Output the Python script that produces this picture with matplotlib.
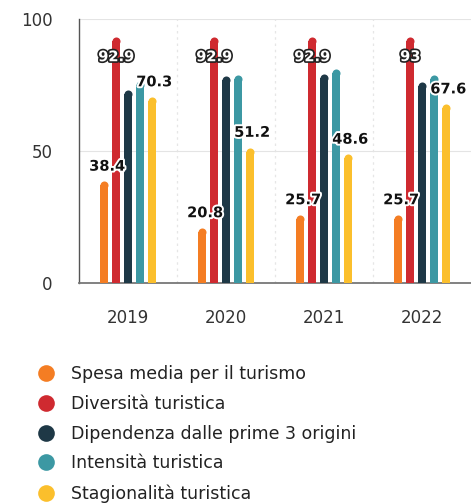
import matplotlib
matplotlib.use("Agg")
import matplotlib.pyplot as plt
import matplotlib.patheffects as pe
import numpy as np

years = ["2019", "2020", "2021", "2022"]
series_names = [
    "Spesa media per il turismo",
    "Diversità turistica",
    "Dipendenza dalle prime 3 origini",
    "Intensità turistica",
    "Stagionalità turistica",
]
spesa = [38.4, 20.8, 25.7, 25.7]
diversita = [92.9, 92.9, 92.9, 93]
dipendenza = [73.0, 78.4, 79.2, 76.0]
intensita = [76.5, 78.6, 81.0, 78.8]
stagionalita = [70.3, 51.2, 48.6, 67.6]
labelled = [True, True, False, False, True]
colors = ["#f47d23", "#cf2a30", "#1e3846", "#3c98a3", "#fbbf2c"]

series = [spesa, diversita, dipendenza, intensita, stagionalita]

plt.rcParams["font.family"] = ["DejaVu Sans"]
fig = plt.figure(figsize=(4.71, 5.03), dpi=100)
ax_h_px = 264.5
ax = fig.add_axes([79 / 471, 220 / 503, 392 / 471, ax_h_px / 503])

ax.set_xlim(-0.5, 3.5)
ax.set_ylim(0, 100)

x = np.arange(len(years))
step = 0.12
bw = 0.082
cap_px = bw * 98  # cap diameter in pixels, same as the bar width
cap_r = (cap_px / 2) / (ax_h_px / 100)  # cap radius in data units
halo = [pe.withStroke(linewidth=2.8, foreground="white")]

for i, (vals, col) in enumerate(zip(series, colors)):
    off = (i - 2) * step
    for xi, v in zip(x, vals):
        ax.bar(xi + off, v - cap_r, width=bw, color=col, zorder=3, edgecolor="none")
        # rounded cap on top of each bar
        ax.plot(xi + off, v - cap_r, marker="o", markersize=cap_px * 0.72, color=col,
                markeredgewidth=0, zorder=3)
    if labelled[i]:
        for xi, v in zip(x, vals):
            txt = f"{v:g}"
            if i == 1:
                ax.annotate(txt, (xi + off, v), xytext=(0, -14), textcoords="offset points",
                            ha="center", va="center", fontsize=10.5, fontweight="bold",
                            color="white", zorder=5,
                            path_effects=[pe.withStroke(linewidth=2.4, foreground="#222222")])
            else:
                ax.annotate(txt, (xi + off, v), xytext=(2, 11), textcoords="offset points",
                            ha="center", va="center", fontsize=10.5, fontweight="bold",
                            color="#111111", zorder=5, path_effects=halo)

ax.set_yticks([0, 50, 100])
ax.set_xticks(x)
ax.set_xticklabels(years)
ax.tick_params(axis="both", length=0, labelsize=12, colors="#333333")
ax.tick_params(axis="y", pad=19)
ax.tick_params(axis="x", pad=19)
for lab in ax.get_yticklabels():
    lab.set_horizontalalignment("right")

ax.grid(axis="y", color="#e4e4e4", linewidth=0.8, zorder=0)
for gx in [0.5, 1.5, 2.5]:
    ax.axvline(gx, color="#e6e6e6", linestyle=(0, (2, 3)), linewidth=0.9, zorder=0)

for s in ["top", "right"]:
    ax.spines[s].set_visible(False)
ax.spines["left"].set_color("#555555")
ax.spines["bottom"].set_color("#777777")
ax.spines["left"].set_linewidth(1.0)
ax.spines["bottom"].set_linewidth(1.3)

handles = [plt.Line2D([], [], marker="o", linestyle="none", markersize=12,
                      markerfacecolor=c, markeredgewidth=0) for c in colors]
fig.legend(handles, series_names, loc="upper left", bbox_to_anchor=(37 / 471, 1 - 365 / 503),
           frameon=False, fontsize=12.5, handletextpad=0.95, labelspacing=0.68,
           borderaxespad=0, borderpad=0, handlelength=1.0, labelcolor="#222222")

fig.savefig("out.png", dpi=100, facecolor="white")
